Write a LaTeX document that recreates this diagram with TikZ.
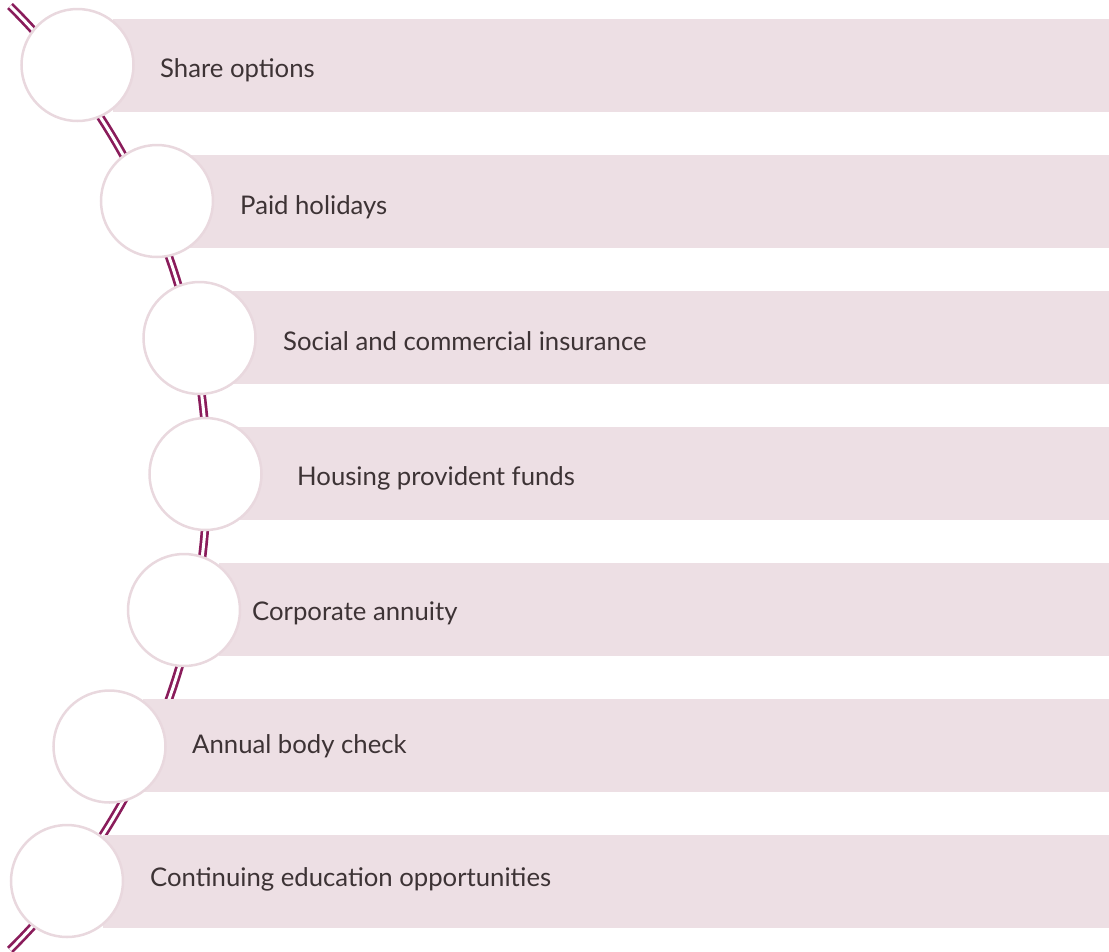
\documentclass[tikz,border=0pt]{standalone}
\usepackage{fontspec}
\setmainfont{Lato}
\definecolor{barfill}{HTML}{EDDFE4}
\definecolor{ringcol}{HTML}{E9D8DE}
\definecolor{wine}{HTML}{8A1C5B}
\definecolor{txtcol}{HTML}{3D3335}
\begin{document}
\begin{tikzpicture}[x=1pt,y=-1pt,
  barbox/.style={fill=barfill, draw=none, anchor=west, minimum height=93pt, minimum width=1200pt, inner sep=0pt},
  ring/.style={circle, fill=white, draw=ringcol, line width=2.5pt, minimum size=112pt, inner sep=0pt},
  label/.style={anchor=base west, inner sep=0pt, text=txtcol, font=\fontsize{25.7}{29}\selectfont},
  wineline/.style={draw=wine, line width=2.7pt, double=white, double distance=3pt}]
\useasboundingbox (0,0) rectangle (1109,951);
\clip (0,0) rectangle (1109,951);
% connector arc
\coordinate (arctop) at (10,6);
\draw[wineline] (arctop) arc[start angle=45.3, end angle=-45.3, radius=664pt];
% bars
\node[barbox] (b1) at (113,65.5) {};
\node[barbox] (b2) at (190,201.5) {};
\node[barbox] (b3) at (233,337.5) {};
\node[barbox] (b4) at (238,473.5) {};
\node[barbox] (b5) at (219,609.5) {};
\node[barbox] (b6) at (143,745.5) {};
\node[barbox] (b7) at (103,881.5) {};
% circles
\node[ring] (c1) at (77.5,65) {};
\node[ring] (c2) at (157,201) {};
\node[ring] (c3) at (199.5,338) {};
\node[ring] (c4) at (205.5,474) {};
\node[ring] (c5) at (184,610) {};
\node[ring] (c6) at (109.5,746.5) {};
\node[ring] (c7) at (67,881) {};
% labels
\node[label] (t1) at (160,77.5) {Share options};
\node[label] (t2) at (240,214.5) {Paid holidays};
\node[label] (t3) at (283,350.5) {Social and commercial insurance};
\node[label] (t4) at (297,485.5) {Housing provident funds};
\node[label] (t5) at (252,620.5) {Corporate annuity};
\node[label] (t6) at (192,753.5) {Annual body check};
\node[label] (t7) at (150,886.5) {Continuing education opportunities};
\end{tikzpicture}
\end{document}
